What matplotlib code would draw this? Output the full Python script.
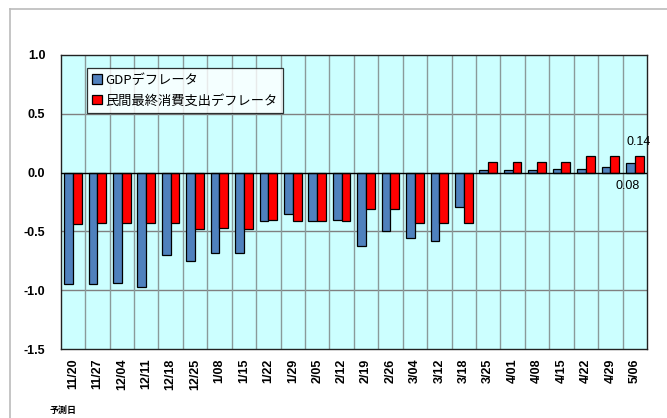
import matplotlib
matplotlib.use("Agg")
import matplotlib.pyplot as plt
from matplotlib.lines import Line2D
import numpy as np

plt.rcParams['font.family'] = ['Liberation Sans', 'Noto Sans CJK JP', 'DejaVu Sans']

dates = ["11/20", "11/27", "12/04", "12/11", "12/18", "12/25", "1/08", "1/15",
         "1/22", "1/29", "2/05", "2/12", "2/19", "2/26", "3/04", "3/12", "3/18",
         "3/25", "4/01", "4/08", "4/15", "4/22", "4/29", "5/06"]
gdp = [-0.95, -0.95, -0.94, -0.97, -0.70, -0.75, -0.68, -0.68,
       -0.41, -0.35, -0.41, -0.40, -0.62, -0.50, -0.56, -0.58, -0.29,
       0.02, 0.02, 0.02, 0.03, 0.03, 0.05, 0.08]
pce = [-0.44, -0.43, -0.43, -0.43, -0.43, -0.48, -0.47, -0.48,
       -0.40, -0.41, -0.41, -0.41, -0.31, -0.31, -0.43, -0.43, -0.43,
       0.09, 0.09, 0.09, 0.09, 0.14, 0.14, 0.14]
yticks = [1.0, 0.5, 0.0, -0.5, -1.0, -1.5]
series_names = ["GDPデフレータ", "民間最終消費支出デフレータ"]

fig = plt.figure(figsize=(6.67, 4.18), dpi=100)
ax = fig.add_axes([60.7/667, 1-349/418, (647-60.7)/667, (349-55)/418])
ax.set_facecolor("#CCFFFF")

x = np.arange(len(dates))
w = 0.36
ax.bar(x - 0.18, gdp, w, color="#4F81BD", edgecolor="black", linewidth=0.9,
       label=series_names[0], zorder=3)
ax.bar(x + 0.18, pce, w, color="#FF0000", edgecolor="black", linewidth=0.9,
       label=series_names[1], zorder=3)

ax.set_xlim(-0.5, len(dates) - 0.5)
ax.set_ylim(-1.5, 1.0)
ax.set_yticks(yticks)
ax.set_yticklabels([f"{v:.1f}" for v in yticks], fontweight="bold", fontsize=9)
ax.set_xticks(x)
ax.set_xticklabels(dates, rotation=90, fontweight="bold", fontsize=9)
ax.tick_params(axis="y", length=0, pad=11)
ax.tick_params(axis="x", length=0, pad=7)

for v in [0.5, -0.5, -1.0]:
    ax.axhline(v, color="#808080", linewidth=1.0, zorder=1)
for i in range(1, len(dates)):
    ax.axvline(i - 0.5, color="#8a9a9a", linewidth=1.0, zorder=1)
ax.axhline(0, color="black", linewidth=1.0, zorder=4)

for s in ax.spines.values():
    s.set_color("#222222")
    s.set_linewidth(1.0)

ax.annotate(f"{pce[-1]:.2f}", xy=(x[-1] + 0.18, pce[-1]), xytext=(0, 6),
            textcoords="offset points", ha="center", va="bottom", fontsize=9)
ax.annotate(f"{gdp[-1]:.2f}", xy=(x[-1] - 0.18, 0), xytext=(-2, -5),
            textcoords="offset points", ha="center", va="top", fontsize=9)

leg = ax.legend(loc="upper left", bbox_to_anchor=(0.045, 0.955), fontsize=9.5,
                frameon=True, fancybox=False, edgecolor="black",
                handlelength=0.7, handleheight=0.7, handletextpad=0.3,
                borderpad=0.4, labelspacing=0.6, borderaxespad=0)
leg.get_frame().set_linewidth(0.9)
for t in leg.get_texts():
    t.set_fontfamily(['Noto Sans CJK JP', 'DejaVu Sans'])
    t.set_fontsize(9.5)

fig.text(50/667, 1-410/418, "予測日", fontsize=6.5, fontweight="bold",
         family=['Noto Sans CJK JP', 'DejaVu Sans'], va="center", ha="left")

# outer frame lines
fig.add_artist(Line2D([10/667, 10/667], [0, 1-9/418], color="#BBBBBB", linewidth=1.2,
                      transform=fig.transFigure))
fig.add_artist(Line2D([10/667, 1], [1-9/418, 1-9/418], color="#BBBBBB", linewidth=1.2,
                      transform=fig.transFigure))

fig.savefig("out.png", dpi=100)
